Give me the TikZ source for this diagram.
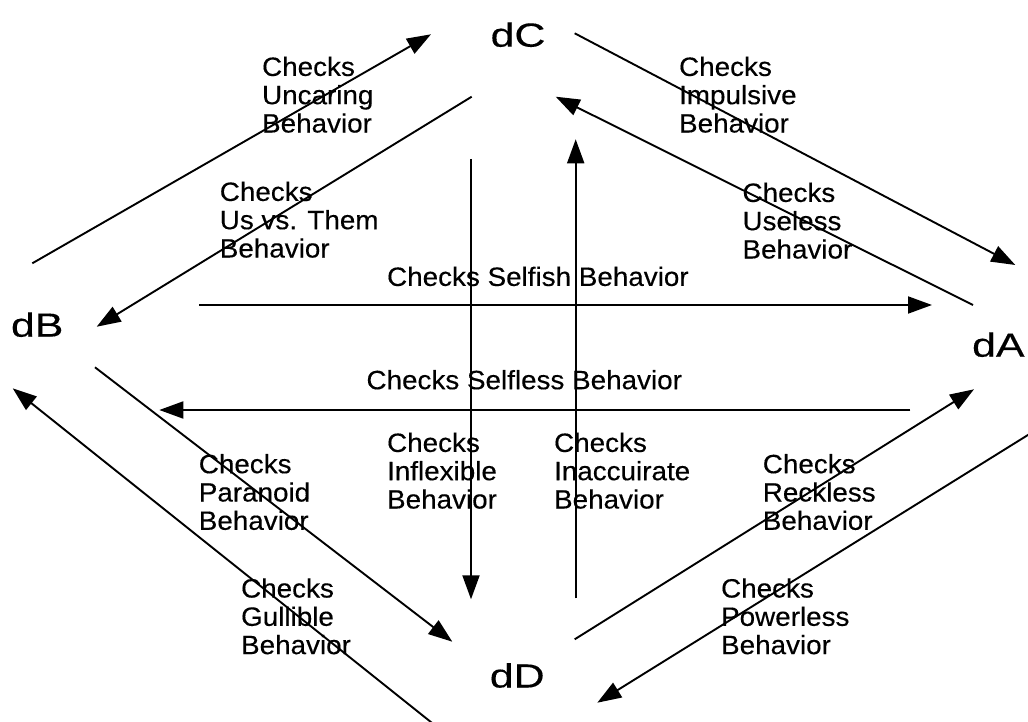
\documentclass[tikz,border=0pt]{standalone}
\usepackage{graphicx}
\usepackage{fontspec}
\setmainfont{Liberation Sans}[FakeBold=0.3]
\usetikzlibrary{arrows.meta}
\newcommand{\lbl}[1]{\scalebox{1.05}[1]{\fontsize{26.5}{28.3}\selectfont\begin{tabular}{@{}l@{}}#1\end{tabular}}}
\newcommand{\bigt}[1]{\scalebox{1.28}[1]{\fontsize{33.5}{40}\selectfont #1}}
\begin{document}
\begin{tikzpicture}[x=1pt,y=-1pt,
  lab/.style={inner sep=0pt, anchor=north west},
  state/.style={inner sep=0pt, anchor=base},
  arr/.style={line width=1.9pt, -{Triangle[length=24pt,width=17pt]}}]
\useasboundingbox (0,0) rectangle (1028,722);
\clip (0,0) rectangle (1028,722);
% state nodes
\node[state] (dC) at (518,46.7) {\bigt{dC}};
\node[state] (dB) at (37.2,336.7) {\bigt{dB}};
\node[state] (dA) at (998.3,356.7) {\bigt{dA}};
\node[state] (dD) at (517.2,687.5) {\bigt{dD}};
% connector end points
\coordinate (BCs) at (32.3,263.3);  \coordinate (BCe) at (431,34.3);
\coordinate (CBs) at (471.7,96.7);  \coordinate (CBe) at (96.7,326.7);
\coordinate (BAs) at (199,305);     \coordinate (BAe) at (932,305);
\coordinate (CAs) at (574.7,33.3);  \coordinate (CAe) at (1015.3,265);
\coordinate (ACs) at (973,305);     \coordinate (ACe) at (555.7,96.7);
\coordinate (DCs) at (575.7,598.3); \coordinate (DCe) at (575.7,139.3);
\coordinate (CDs) at (471,159);     \coordinate (CDe) at (471,599.3);
\coordinate (ABs) at (910.3,410);   \coordinate (ABe) at (159.3,410);
\coordinate (BDs) at (95,367.3);    \coordinate (BDe) at (452.3,641.7);
\coordinate (DBs) at (432.1,723);   \coordinate (DBe) at (12.7,388.3);
\coordinate (DAs) at (574.7,639.3); \coordinate (DAe) at (974,389.3);
\coordinate (ADs) at (1035,430.6);  \coordinate (ADe) at (597.3,702.7);
% connectors
\draw[arr] (BCs) -- (BCe);
\draw[arr] (CBs) -- (CBe);
\draw[arr] (BAs) -- (BAe);
\draw[arr] (CAs) -- (CAe);
\draw[arr] (ACs) -- (ACe);
\draw[arr] (DCs) -- (DCe);
\draw[arr] (CDs) -- (CDe);
\draw[arr] (ABs) -- (ABe);
\draw[arr] (BDs) -- (BDe);
\draw[arr] (DBs) -- (DBe);
\draw[arr] (DAs) -- (DAe);
\draw[arr] (ADs) -- (ADe);
% labels
\node[lab] (lUnc) at (261.9,55.9) {\lbl{Checks\\Uncaring\\Behavior}};
\node[lab] (lUvT) at (219.6,180.9) {\lbl{Checks\\Us vs. Them\\Behavior}};
\node[lab] (lSfh) at (386.9,265.9) {\lbl{Checks Selfish Behavior}};
\node[lab] (lImp) at (678.9,55.9) {\lbl{Checks\\Impulsive\\Behavior}};
\node[lab] (lUse) at (742.3,181.9) {\lbl{Checks\\Useless\\Behavior}};
\node[lab] (lSfl) at (366.3,369.2) {\lbl{Checks Selfless Behavior}};
\node[lab] (lInf) at (386.9,431.9) {\lbl{Checks\\Inflexible\\Behavior}};
\node[lab] (lPar) at (198.6,453.2) {\lbl{Checks\\Paranoid\\Behavior}};
\node[lab] (lGul) at (240.9,577.5) {\lbl{Checks\\Gullible\\Behavior}};
\node[lab] (lIna) at (553.9,431.9) {\lbl{Checks\\Inaccuirate\\Behavior}};
\node[lab] (lRec) at (762.6,453.2) {\lbl{Checks\\Reckless\\Behavior}};
\node[lab] (lPow) at (720.9,577.5) {\lbl{Checks\\Powerless\\Behavior}};
\end{tikzpicture}
\end{document}
